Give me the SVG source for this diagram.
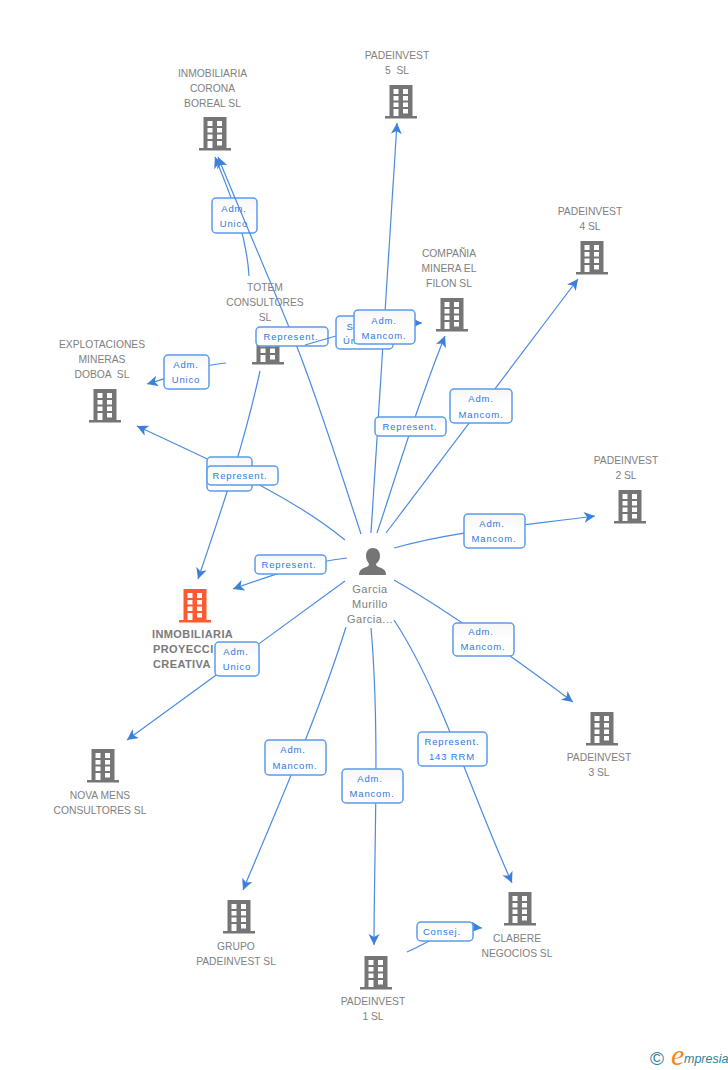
<svg xmlns="http://www.w3.org/2000/svg" width="728" height="1070" viewBox="0 0 728 1070">
<style>
text{font-family:"Liberation Sans",Arial,sans-serif}
.n{font-size:10.3px;fill:#808080;text-anchor:middle}
.m{font-size:11px;letter-spacing:.5px}
.b{font-size:11px;font-weight:bold;fill:#7a7a7a;letter-spacing:.4px}
.e{fill:none;stroke:#4a8be2;stroke-width:1.2;marker-end:url(#a)}
.l rect{fill:url(#g);stroke:#5c9cec;stroke-width:1.5}
.l text{font-size:9.5px;fill:#2f78e0;text-anchor:middle;letter-spacing:.85px}
.g{fill:#757575}.o{fill:#ff5a2e}
</style>
<defs>
<linearGradient id="g" x1="0" y1="0" x2="0" y2="1"><stop offset="0" stop-color="#f6f6f6"/><stop offset=".5" stop-color="#fff"/></linearGradient>
<marker id="a" markerUnits="userSpaceOnUse" markerWidth="13" markerHeight="12" refX="11" refY="5.500" orient="auto"><path d="M11,5.500 L0,0 L3,5.500 L0,11 Z" fill="#3c80dc"/></marker>
<path id="h" fill-rule="evenodd" d="M-11.500,0H11.500V31H16V33.500H-16V31H-11.500ZM-7.500,4V9H-2.500V4ZM2,4V9H7V4ZM-7.500,11V15.500H-2.500V11ZM2,11V15.500H7V11ZM-7.500,17.500V22H-2.500V17.500ZM2,17.500V22H7V17.500ZM-7.500,24V31H-2.500V24ZM2,24V28.500H7V24Z"/>
</defs>
<g id="n-corona"><use href="#h" x="215" y="117" class="g"/><text class="n" x="212.500" y="77">INMOBILIARIA</text><text class="n" x="212.500" y="92">CORONA</text><text class="n" x="212.500" y="107">BOREAL SL</text></g>
<g id="n-p5"><use href="#h" x="401" y="85" class="g"/><text class="n" x="397" y="59">PADEINVEST</text><text class="n" x="397" y="74" xml:space="preserve">5  SL</text></g>
<g id="n-p4"><use href="#h" x="592" y="241" class="g"/><text class="n" x="590" y="215">PADEINVEST</text><text class="n" x="590" y="230">4 SL</text></g>
<g id="n-filon"><use href="#h" x="452" y="298" class="g"/><text class="n" x="449" y="257">COMPAÑIA</text><text class="n" x="449" y="272">MINERA EL</text><text class="n" x="449" y="287">FILON SL</text></g>
<g id="n-totem"><use href="#h" x="268" y="331" class="g"/><text class="n" x="265" y="291">TOTEM</text><text class="n" x="265" y="306">CONSULTORES</text><text class="n" x="265" y="321">SL</text></g>
<g id="n-doboa"><use href="#h" x="105" y="389" class="g"/><text class="n" x="102" y="348">EXPLOTACIONES</text><text class="n" x="102" y="363">MINERAS</text><text class="n" x="102" y="378" xml:space="preserve">DOBOA  SL</text></g>
<g id="n-p2"><use href="#h" x="630" y="490" class="g"/><text class="n" x="626" y="464">PADEINVEST</text><text class="n" x="626" y="479">2 SL</text></g>
<g id="n-main"><use href="#h" x="195" y="589" class="o"/><text class="b" x="152" y="638">INMOBILIARIA</text><text class="b" x="153" y="653">PROYECCI</text><text class="b" x="153" y="668">CREATIVA</text></g>
<g id="n-nova"><use href="#h" x="103" y="749" class="g"/><text class="n" x="100" y="799">NOVA MENS</text><text class="n" x="100" y="814">CONSULTORES SL</text></g>
<g id="n-p3"><use href="#h" x="602" y="712" class="g"/><text class="n" x="599" y="761">PADEINVEST</text><text class="n" x="599" y="776">3 SL</text></g>
<g id="n-clabere"><use href="#h" x="520" y="892" class="g"/><text class="n" x="517" y="942">CLABERE</text><text class="n" x="517" y="957">NEGOCIOS SL</text></g>
<g id="n-grupo"><use href="#h" x="239" y="900" class="g"/><text class="n" x="236" y="950">GRUPO</text><text class="n" x="236" y="965">PADEINVEST SL</text></g>
<g id="n-p1"><use href="#h" x="376" y="956" class="g"/><text class="n" x="373" y="1005">PADEINVEST</text><text class="n" x="373" y="1020">1 SL</text></g>
<g id="n-person"><path class="g" d="M373,548C368,548 366,552 366,556C366,560 368,562 369,564C369,567 365,567 362,569C360,570 359,572 359,575H386C386,572 385,570 383,569C380,567 376,567 376,564C378,562 380,560 380,556C380,552 378,548 373,548Z"/><text class="n m" x="370" y="593">Garcia</text><text class="n m" x="370" y="608">Murillo</text><text class="n m" x="370" y="623">Garcia...</text></g>
<g id="connectors">
<path class="e" d="M249,276C247,240 235,205 215,157"/>
<path class="e" d="M371,533Q384,340 397,123"/>
<path class="e" d="M377,533C395,480 415,410 445,336"/>
<path class="e" d="M386,533L578,279"/>
<path class="e" d="M394,548C450,532 510,527 595,516"/>
<path class="e" d="M394,580C450,612 510,655 573,702"/>
<path class="e" d="M394,620C440,690 470,790 512,883"/>
<path class="e" d="M371,628C380,730 374,850 374,945"/>
<path class="e" d="M346,627C320,710 285,790 243,890"/>
<path class="e" d="M345,581L127,740"/>
<path class="e" d="M347,558C310,562 275,574 233,589"/>
<path class="e" d="M345,540C290,495 220,465 137,426"/>
<path class="e" d="M260,371C245,440 225,500 198,579"/>
<path class="e" d="M226,363C200,365 175,376 147,384"/>
<path class="e" d="M407,952C425,945 450,925 482,928"/>
</g>
<g id="label-corona" class="l"><rect x="212" y="198" width="45" height="35" rx="4"/><text x="234" y="212">Adm.</text><text x="234" y="227">Unico</text></g>
<g id="connectors-over-corona"><path class="e" d="M361,534C340,470 318,400 297,347S250,235 218,157"/></g>
<g id="label-represent-totem" class="l"><rect x="256" y="327" width="72" height="19" rx="4"/><text x="291" y="340">Represent.</text></g>
<g id="connectors-over-totem"><path class="e" d="M305,345L336,336L410,323L422,323"/></g>
<g id="labels" class="l">
<g><rect x="164" y="355" width="45" height="34" rx="4"/><text x="186" y="368">Adm.</text><text x="186" y="383">Unico</text></g>
<g><rect x="336" y="316" width="57" height="33" rx="4"/><text x="350" y="330">S</text><text x="350" y="344">Ún</text></g>
<g><rect x="354" y="310" width="61" height="34" rx="4"/><text x="384" y="324">Adm.</text><text x="384" y="339">Mancom.</text></g>
<g><rect x="375" y="417" width="71" height="19" rx="4"/><text x="410" y="430">Represent.</text></g>
<g><rect x="450" y="389" width="62" height="34" rx="4"/><text x="481" y="402">Adm.</text><text x="481" y="418">Mancom.</text></g>
<g><rect x="207" y="457" width="45" height="34" rx="4"/><text x="229" y="472">Adm.</text></g>
<g><rect x="207" y="466" width="71" height="19" rx="4"/><text x="240" y="479">Represent.</text></g>
<g><rect x="464" y="514" width="61" height="34" rx="4"/><text x="492" y="527">Adm.</text><text x="494" y="542">Mancom.</text></g>
<g><rect x="255" y="555" width="71" height="19" rx="4"/><text x="289" y="568">Represent.</text></g>
<g><rect x="453" y="623" width="61" height="33" rx="4"/><text x="481" y="635">Adm.</text><text x="483" y="650">Mancom.</text></g>
<g><rect x="215" y="642" width="44" height="34" rx="4"/><text x="236" y="655">Adm.</text><text x="237" y="670">Unico</text></g>
<g><rect x="418" y="732" width="69" height="34" rx="4"/><text x="452" y="745">Represent.</text><text x="452" y="760">143 RRM</text></g>
<g><rect x="265" y="740" width="61" height="35" rx="4"/><text x="293" y="753">Adm.</text><text x="295" y="769">Mancom.</text></g>
<g><rect x="342" y="769" width="61" height="34" rx="4"/><text x="370" y="782">Adm.</text><text x="372" y="797">Mancom.</text></g>
<g><rect x="417" y="922" width="56" height="19" rx="4"/><text x="442" y="935">Consej.</text></g>
</g>
<g id="brand"><text x="650" y="1065" font-size="19" fill="#2f7f96">©</text><text x="671" y="1064.500" font-size="30" font-style="italic" fill="#f08a1d" style="font-family:'Liberation Serif',serif">e</text><text x="684" y="1063" font-size="12.500" font-style="italic" fill="#2f7f96">mpresia</text></g>
</svg>
